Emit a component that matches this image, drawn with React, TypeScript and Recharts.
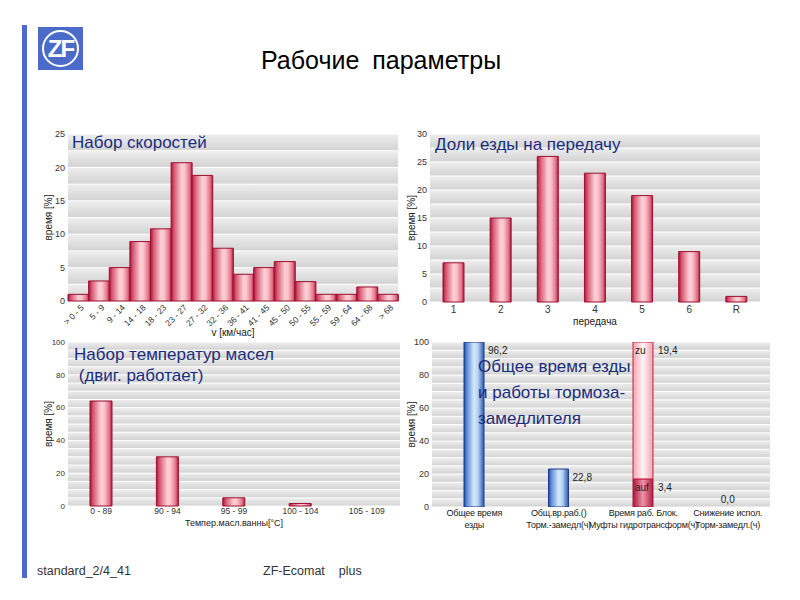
import { BarChart, Bar, XAxis, YAxis, CartesianGrid, LabelList } from 'recharts'

const SPEED_BINS = ['> 0 - 5', '5 - 9', '9 - 14', '14 - 18', '18 - 23', '23 - 27', '27 - 32', '32 - 36', '36 - 41', '41 - 45', '45 - 50', '50 - 55', '55 - 59', '59 - 64', '64 - 68', '> 68']
const SPEED_SHARE = [1, 3, 5, 8.9, 10.8, 20.7, 18.8, 7.9, 4, 5, 5.9, 2.9, 1, 1, 2.1, 1]
const SPEED_TICKS = [0, 2.5, 5, 7.5, 10, 12.5, 15, 17.5, 20, 22.5, 25]

const GEARS = ['1', '2', '3', '4', '5', '6', 'R']
const GEAR_SHARE = [7, 15, 26, 23, 19, 9, 1]
const GEAR_TICKS = [0, 2.5, 5, 7.5, 10, 12.5, 15, 17.5, 20, 22.5, 25, 27.5, 30]

const TEMP_BINS = ['0 - 89', '90 - 94', '95 - 99', '100 - 104', '105 - 109']
const TEMP_SHARE = [64, 30, 5, 1.5, 0]
const PCT_TICKS = [0, 5, 10, 15, 20, 25, 30, 35, 40, 45, 50, 55, 60, 65, 70, 75, 80, 85, 90, 95, 100]

const TIME_CATS = [
  ['Общее время', 'езды'],
  ['Общ.вр.раб.()', 'Торм.-замедл(ч)'],
  ['Время раб. Блок.', 'Муфты гидротрансформ(ч)'],
  ['Снижение испол.', 'Торм-замедл.(ч)'],
]
const TIME_TOTAL = [100, 23, null, 0]
const TIME_TOTAL_LABELS = ['96,2', '22,8', null, '0,0']
const TIME_AUF = [null, null, 17, null]
const TIME_ZU = [null, null, 83, null]
const TIME_AUF_LABELS = [null, null, 'auf|3,4', null]
const TIME_ZU_LABELS = [null, null, 'zu|19,4', null]

const FONT = '"Liberation Sans", Arial, sans-serif'
const NAVY = '#1b2c7c'

const speedData = SPEED_BINS.map((name, i) => ({ name, v: SPEED_SHARE[i] }))
const gearData = GEARS.map((name, i) => ({ name, v: GEAR_SHARE[i] }))
const tempData = TEMP_BINS.map((name, i) => ({ name, v: TEMP_SHARE[i] }))
const timeData = TIME_CATS.map((lines, i) => ({
  name: lines.join(' '),
  total: TIME_TOTAL[i],
  auf: TIME_AUF[i],
  zu: TIME_ZU[i],
  totalLabel: TIME_TOTAL_LABELS[i],
  aufLabel: TIME_AUF_LABELS[i],
  zuLabel: TIME_ZU_LABELS[i],
}))

const every = (step: number) => (v: number) => (v % step === 0 ? String(v) : '')

function SpeedTick({ x, y, payload }: any) {
  const tx = x + 4
  const ty = y + 5
  return (
    <text x={tx} y={ty} transform={`rotate(-45 ${tx} ${ty})`} textAnchor="end" fontSize={8.5} fill="#333" fontFamily={FONT} dy={3}>
      {payload.value}
    </text>
  )
}

// category label (two lines); a zero-height bar gets its value label here, just above the baseline
function TimeTick({ x, y, index }: any) {
  const lines = TIME_CATS[index] ?? []
  const zeroLabel = TIME_TOTAL[index] === 0 ? TIME_TOTAL_LABELS[index] : null
  return (
    <g>
      {zeroLabel && (
        <text x={x} y={y - 4} textAnchor="middle" fontSize={10} fill="#222" fontFamily={FONT}>{zeroLabel}</text>
      )}
      <text x={x} y={y} textAnchor="middle" fontSize={9} letterSpacing={-0.2} fill="#222" fontFamily={FONT}>
        {lines.map((l, i) => (
          <tspan key={i} x={x} dy={i === 0 ? 9 : 12}>{l}</tspan>
        ))}
      </text>
    </g>
  )
}

function totalLabel(p: any) {
  const { x, y, width, height, value } = p
  if (!value || !height || Math.abs(height) < 1) return null
  return <text x={x + width + 4} y={y + 12} fontSize={10} fill="#222" fontFamily={FONT}>{value}</text>
}

function segLabel(p: any) {
  const { x, y, width, value } = p
  if (!value) return null
  const [inner, outer] = String(value).split('|')
  return (
    <g>
      <text x={x + 2} y={y + 12} fontSize={10} fill="#222" fontFamily={FONT}>{inner}</text>
      <text x={x + width + 5} y={y + 12} fontSize={10} fill="#222" fontFamily={FONT}>{outer}</text>
    </g>
  )
}

const yTickStyle = { fontSize: 9, fill: '#333', fontFamily: FONT }
const yLabel = (dx: number) => ({
  value: 'время [%]', angle: -90, position: 'center' as const, dx,
  style: { fontSize: 10, fill: '#222', fontFamily: FONT },
})

function Grid() {
  return <CartesianGrid vertical={false} stroke="#ffffff" horizontalFill={['url(#band)']} />
}

function Title({ left, top, lines, lh }: { left: number; top: number; lines: string[]; lh: number }) {
  return (
    <div style={{ position: 'absolute', left, top, color: NAVY, fontSize: 17, lineHeight: `${lh}px`, whiteSpace: 'pre', pointerEvents: 'none' }}>
      {lines.map((l, i) => <div key={i}>{l}</div>)}
    </div>
  )
}

export default function App() {
  return (
    <div style={{ position: 'absolute', left: 0, top: 0, width: 800, height: 600, background: '#fff', fontFamily: FONT, overflow: 'hidden' }}>
      <svg width={0} height={0} style={{ position: 'absolute' }}>
        <defs>
          <linearGradient id="band" x1="0" y1="0" x2="0" y2="1">
            <stop offset="0" stopColor="#eeeeee" />
            <stop offset="1" stopColor="#d2d2d2" />
          </linearGradient>
          <linearGradient id="red" x1="0" y1="0" x2="1" y2="0">
            <stop offset="0" stopColor="#a8163a" />
            <stop offset="0.15" stopColor="#d85a74" />
            <stop offset="0.5" stopColor="#fcd0d6" />
            <stop offset="0.65" stopColor="#fbc4cc" />
            <stop offset="0.88" stopColor="#e27288" />
            <stop offset="1" stopColor="#ad1a3e" />
          </linearGradient>
          <linearGradient id="blue" x1="0" y1="0" x2="1" y2="0">
            <stop offset="0" stopColor="#1e4a9c" />
            <stop offset="0.15" stopColor="#6090d6" />
            <stop offset="0.5" stopColor="#d4e8fb" />
            <stop offset="0.7" stopColor="#b6d2f2" />
            <stop offset="1" stopColor="#2a58a8" />
          </linearGradient>
          <linearGradient id="redDark" x1="0" y1="0" x2="1" y2="0">
            <stop offset="0" stopColor="#a8163a" />
            <stop offset="0.5" stopColor="#ee94a6" />
            <stop offset="1" stopColor="#b01c40" />
          </linearGradient>
          <linearGradient id="pink" x1="0" y1="0" x2="1" y2="0">
            <stop offset="0" stopColor="#f3a2b1" />
            <stop offset="0.5" stopColor="#fff4f6" />
            <stop offset="1" stopColor="#f3a2b1" />
          </linearGradient>
        </defs>
      </svg>

      {/* page frame */}
      <div style={{ position: 'absolute', left: 22, top: 25, width: 5, height: 553, background: '#4a6cc8' }} />
      <svg width={45} height={43} style={{ position: 'absolute', left: 38, top: 27 }}>
        <rect width={45} height={43} fill="#4a6cc8" />
        <circle cx={22.5} cy={21.5} r={17.5} fill="none" stroke="#fff" strokeWidth={2} />
        <text x={22.5} y={30} textAnchor="middle" fontSize={24} fontWeight="bold" fill="#fff" fontFamily={FONT} letterSpacing={-2}>ZF</text>
      </svg>
      <div style={{ position: 'absolute', left: 261, top: 46, fontSize: 25, color: '#000', wordSpacing: 6 }}>Рабочие параметры</div>
      <div style={{ position: 'absolute', left: 37, top: 564, fontSize: 12.5, color: '#333' }}>standard_2/4_41</div>
      <div style={{ position: 'absolute', left: 263, top: 564, fontSize: 12.5, color: '#333', whiteSpace: 'pre' }}>ZF-Ecomat    plus</div>

      {/* Набор скоростей */}
      <div style={{ position: 'absolute', left: 30, top: 125 }}>
        <BarChart width={380} height={220} data={speedData} margin={{ top: 9, right: 12, bottom: 4, left: 18 }} barCategoryGap={0}>
          <Grid />
          <XAxis dataKey="name" interval={0} tick={<SpeedTick />} tickSize={0} tickMargin={0} axisLine={false} height={40}
            label={{ value: 'v [км/час]', position: 'insideBottom', offset: 5, style: { fontSize: 10, fill: '#222', fontFamily: FONT } }} />
          <YAxis width={20} domain={[0, 25]} ticks={SPEED_TICKS} interval={0} tickFormatter={every(5)} tick={yTickStyle}
            tickSize={0} tickMargin={3} axisLine={false} label={yLabel(-10)} />
          <Bar dataKey="v" fill="url(#red)" stroke="#9c0f2e" strokeWidth={1} isAnimationActive={false} />
        </BarChart>
        <Title left={42} top={8} lines={['Набор скоростей']} lh={20} />
      </div>

      {/* Доли езды на передачу */}
      <div style={{ position: 'absolute', left: 400, top: 125 }}>
        <BarChart width={380} height={220} data={gearData} margin={{ top: 9, right: 20, bottom: 13, left: 10 }}>
          <Grid />
          <XAxis dataKey="name" interval={0} tick={{ fontSize: 10, fill: '#333', fontFamily: FONT }} tickSize={0} tickMargin={4} axisLine={false} height={30}
            label={{ value: 'передача', position: 'insideBottom', offset: 7, style: { fontSize: 10, fill: '#222', fontFamily: FONT } }} />
          <YAxis width={20} domain={[0, 30]} ticks={GEAR_TICKS} interval={0} tickFormatter={every(5)} tick={yTickStyle}
            tickSize={0} tickMargin={3} axisLine={false} label={yLabel(-9)} />
          <Bar dataKey="v" barSize={21} fill="url(#red)" stroke="#9c0f2e" strokeWidth={1} isAnimationActive={false} />
        </BarChart>
        <Title left={35} top={10} lines={['Доли езды на передачу']} lh={20} />
      </div>

      {/* Набор температур масел */}
      <div style={{ position: 'absolute', left: 30, top: 335 }}>
        <BarChart width={380} height={200} data={tempData} margin={{ top: 7, right: 10, bottom: 4, left: 18 }}>
          <Grid />
          <XAxis dataKey="name" interval={0} tick={{ fontSize: 8.5, fill: '#333', fontFamily: FONT }} tickSize={0} tickMargin={2} axisLine={false} height={25}
            label={{ value: 'Темпер.масл.ванны[°C]', position: 'insideBottom', offset: 5, style: { fontSize: 9, fill: '#222', fontFamily: FONT } }} />
          <YAxis width={20} domain={[0, 100]} ticks={PCT_TICKS} interval={0} tickFormatter={every(20)} tick={{ ...yTickStyle, fontSize: 8 }}
            tickSize={0} tickMargin={3} axisLine={false} label={yLabel(-10)} />
          <Bar dataKey="v" barSize={22} fill="url(#red)" stroke="#9c0f2e" strokeWidth={1} isAnimationActive={false} />
        </BarChart>
        <Title left={44} top={9} lines={['Набор температур масел', ' (двиг. работает)']} lh={21} />
      </div>

      {/* Общее время езды и работы тормоза-замедлителя */}
      <div style={{ position: 'absolute', left: 400, top: 335 }}>
        <BarChart width={380} height={200} data={timeData} margin={{ top: 7, right: 10, bottom: 0, left: 10 }} barSize={20}>
          <Grid />
          <XAxis dataKey="name" interval={0} tick={<TimeTick />} tickSize={0} tickMargin={0} axisLine={false} height={28} />
          <YAxis width={22} domain={[0, 100]} ticks={PCT_TICKS} interval={0} tickFormatter={every(20)} tick={yTickStyle}
            tickSize={0} tickMargin={3} axisLine={false} label={yLabel(-10)} allowDataOverflow />
          <Bar dataKey="total" stackId="t" fill="url(#blue)" stroke="#1a3c8c" strokeWidth={1} isAnimationActive={false}>
            <LabelList dataKey="totalLabel" content={totalLabel} />
          </Bar>
          <Bar dataKey="auf" stackId="t" fill="url(#redDark)" stroke="#a8163a" strokeWidth={1} isAnimationActive={false}>
            <LabelList dataKey="aufLabel" content={segLabel} />
          </Bar>
          <Bar dataKey="zu" stackId="t" fill="url(#pink)" stroke="#c42040" strokeWidth={1} isAnimationActive={false}>
            <LabelList dataKey="zuLabel" content={segLabel} />
          </Bar>
        </BarChart>
        <Title left={78} top={19} lines={['Общее время езды', 'и работы тормоза-', 'замедлителя']} lh={26} />
      </div>
    </div>
  )
}
